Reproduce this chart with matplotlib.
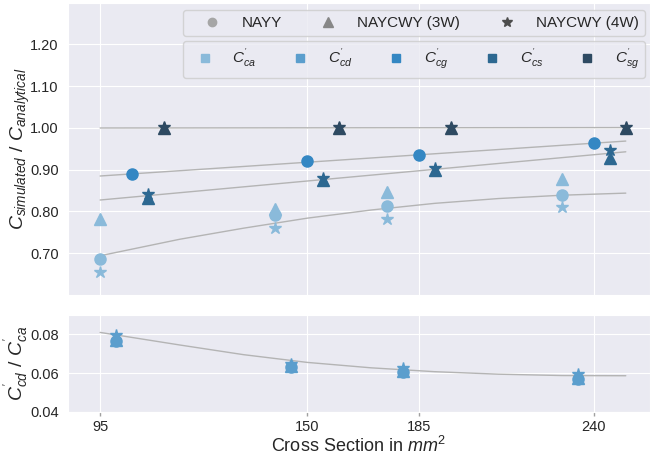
import matplotlib
matplotlib.use('Agg')
import matplotlib.pyplot as plt
import seaborn as sns
from matplotlib.lines import Line2D

sns.set_style('darkgrid')
plt.rcParams['font.family'] = ['Liberation Sans', 'DejaVu Sans']
plt.rcParams['mathtext.fontset'] = 'custom'
plt.rcParams['mathtext.rm'] = 'Liberation Sans'
plt.rcParams['mathtext.it'] = 'Liberation Sans:italic'
plt.rcParams['mathtext.bf'] = 'Liberation Sans:bold'

# cross sections (mm^2) and tick labels
sections = [95, 150, 185, 240]
tick_pos = [85, 150, 185, 240]
tick_labels = ['95', '150', '185', '240']

# C_simulated / C_analytical
nayy_ca = [0.686, 0.791, 0.812, 0.840]
nayy_cg = [0.890, 0.921, 0.935, 0.9646]
w3_ca = [0.782, 0.806, 0.846, 0.8785]
w3_cs = [0.833, 0.876, 0.900, 0.927]
w3_sg = [0.999, 0.999, 0.999, 0.999]
w4_ca = [0.656, 0.760, 0.783, 0.810]
w4_cs = [0.841, 0.880, 0.903, 0.947]
w4_sg = [1.002, 1.002, 1.002, 1.002]

# C'_cd / C'_ca
nayy_cd = [0.0767, 0.0633, 0.0607, 0.0569]
w3_cd = [0.0772, 0.0637, 0.0611, 0.0573]
w4_cd = [0.0798, 0.0647, 0.0624, 0.0595]

# trend lines
trend_x = [85, 110, 130, 150, 170, 190, 210, 230, 250]
trend_ca = [0.694, 0.7335, 0.760, 0.784, 0.8035, 0.8195, 0.831, 0.839, 0.844]
trend_cd = [0.0810, 0.0745, 0.0695, 0.0655, 0.0627, 0.0607, 0.0594, 0.0587, 0.0586]
trend_x_lin = [85, 250]
trend_cg = [0.885, 0.9687]
trend_cs = [0.8275, 0.943]
trend_sg = [1.0, 1.001]

comp_labels = [r"$C^{'}_{ca}$", r"$C^{'}_{cd}$", r"$C^{'}_{cg}$", r"$C^{'}_{cs}$", r"$C^{'}_{sg}$"]
colors = {'ca': '#8abada', 'cd': '#5b9ecd', 'cg': '#3487c3', 'cs': '#2d6891', 'sg': '#2e4a62'}
shift = {'ca': -10, 'cd': -5, 'cg': 0, 'cs': 5, 'sg': 10}
line_col = '#b4b4b4'


def xs(comp):
    return [s + shift[comp] for s in sections]


fig = plt.figure(figsize=(6.5, 4.57), dpi=100)
ax1 = fig.add_axes([0.105, 0.3545, 0.895, 0.6395])
ax2 = fig.add_axes([0.105, 0.0991, 0.895, 0.2116])

# top panel
ax1.plot(trend_x, trend_ca, color=line_col, lw=1, zorder=1.5)
ax1.plot(trend_x_lin, trend_cg, color=line_col, lw=1, zorder=1.5)
ax1.plot(trend_x_lin, trend_cs, color=line_col, lw=1, zorder=1.5)
ax1.plot(trend_x_lin, trend_sg, color=line_col, lw=1, zorder=1.5)

ms = 8
ax1.plot(xs('ca'), nayy_ca, ls='', marker='o', ms=ms, color=colors['ca'], zorder=3)
ax1.plot(xs('cg'), nayy_cg, ls='', marker='o', ms=ms, color=colors['cg'], zorder=3)
ax1.plot(xs('ca'), w3_ca, ls='', marker='^', ms=ms, color=colors['ca'], zorder=3)
ax1.plot(xs('cs'), w3_cs, ls='', marker='^', ms=ms, color=colors['cs'], zorder=3)
ax1.plot(xs('sg'), w3_sg, ls='', marker='^', ms=ms, color=colors['sg'], zorder=3)
ax1.plot(xs('ca'), w4_ca, ls='', marker='*', ms=ms + 1, color=colors['ca'], zorder=3)
ax1.plot(xs('cs'), w4_cs, ls='', marker='*', ms=ms + 1, color=colors['cs'], zorder=3)
ax1.plot(xs('sg'), w4_sg, ls='', marker='*', ms=ms + 1, color=colors['sg'], zorder=3)

ax1.set_xlim(75, 257.6)
ax1.set_ylim(0.6, 1.3)
ax1.set_yticks([0.7, 0.8, 0.9, 1.0, 1.1, 1.2])
ax1.set_yticklabels([f'{v:.2f}' for v in [0.7, 0.8, 0.9, 1.0, 1.1, 1.2]])
ax1.set_xticks(tick_pos)
ax1.set_xticklabels([])
ax1.tick_params(axis='y', labelsize=10.5)
ax1.set_ylabel(r'$C_{simulated}$ / $C_{analytical}$', fontsize=14)
ax1.yaxis.set_label_coords(-0.062, 0.5)

# legends
h1 = [Line2D([], [], ls='', marker='o', ms=6, color='#a6a6a6'),
      Line2D([], [], ls='', marker='^', ms=7, color='#878787'),
      Line2D([], [], ls='', marker='*', ms=7, color='#4d4d4d')]
leg1 = ax1.legend(h1, ['NAYY', 'NAYCWY (3W)', 'NAYCWY (4W)'], ncol=3, mode='expand',
                  loc='upper left', bbox_to_anchor=(0.1977, 0.0, 0.7937, 0.975),
                  borderaxespad=0, frameon=True, facecolor='#eaeaf2', edgecolor='#cccccc',
                  framealpha=0.8, fontsize=11, handlelength=3.0, handletextpad=0.4)
ax1.add_artist(leg1)
h2 = [Line2D([], [], ls='', marker='s', ms=6, color=colors[c]) for c in ['ca', 'cd', 'cg', 'cs', 'sg']]
ax1.legend(h2, comp_labels, ncol=5, mode='expand', loc='upper left',
           bbox_to_anchor=(0.1977, 0.0, 0.7937, 0.870), borderaxespad=0, frameon=True,
           facecolor='#eaeaf2', edgecolor='#cccccc', framealpha=0.8, fontsize=11)

# bottom panel
ax2.plot(trend_x, trend_cd, color=line_col, lw=1, zorder=1.5)
ax2.plot(xs('cd'), nayy_cd, ls='', marker='o', ms=ms, color=colors['cd'], zorder=3)
ax2.plot(xs('cd'), w3_cd, ls='', marker='^', ms=ms, color=colors['cd'], zorder=3)
ax2.plot(xs('cd'), w4_cd, ls='', marker='*', ms=ms + 1, color=colors['cd'], zorder=3)

ax2.set_xlim(75, 257.6)
ax2.set_ylim(0.04, 0.09)
ax2.set_yticks([0.04, 0.06, 0.08])
ax2.set_yticklabels(['0.04', '0.06', '0.08'])
ax2.set_xticks(tick_pos)
ax2.set_xticklabels(tick_labels)
ax2.tick_params(axis='both', labelsize=10.5)
ax2.tick_params(axis='x', bottom=True, length=3, width=1, color='#a0a0a0', pad=3)
ax2.set_ylabel(r"$C^{'}_{cd}$ / $C^{'}_{ca}$", fontsize=14)
ax2.yaxis.set_label_coords(-0.062, 0.5)
ax2.set_xlabel(r'Cross Section in $mm^2$', fontsize=13, labelpad=1)

fig.savefig('out.png', dpi=100)
